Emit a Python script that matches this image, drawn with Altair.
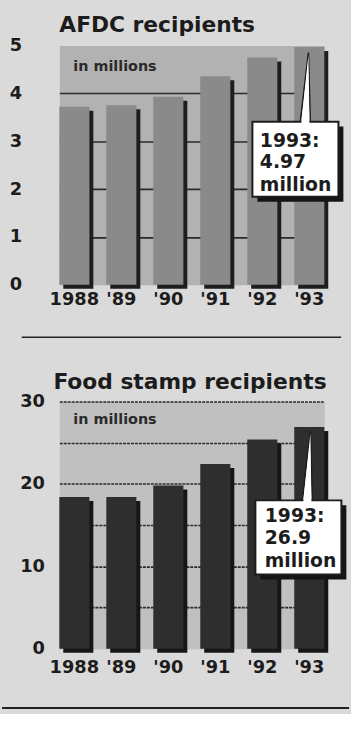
import altair as alt
import pandas as pd

FONT = "DejaVu Sans"
INK = "#1c1c1c"
PAGE = "#dadada"

# ---- data ----
years = ["1988", "'89", "'90", "'91", "'92", "'93"]
afdc_millions = [3.72, 3.75, 3.93, 4.36, 4.75, 4.97]
food_millions = [18.4, 18.4, 19.8, 22.4, 25.4, 26.9]
afdc_callout = ["1993:", "4.97", "million"]
food_callout = ["1993:", "26.9", "million"]
unit_note = "in millions"
titles = ["AFDC recipients", "Food stamp recipients"]

# wedge-shaped pointer (custom symbol path, unit square)
WEDGE = "M0.09,-1 L0.143,1 L-0.143,1 Z"
WEDGE_FILL = "M0.09,-0.94 L0.12,1.08 L-0.12,1.08 Z"


def panel(title, values, callout, ymax, grid_vals, hide_test, label_expr,
          label_pad, x_pad, bar_color, shadow_color, plot_fill, grid_dash, plot_h,
          note_y, box_top, box_bottom, text_ys, wedge_y, box_dx, text_dx,
          wedge_dx, title_pos, extra_rule):
    df = pd.DataFrame({"year": years, "value": values})
    x = alt.X("year:N", sort=years,
              scale=alt.Scale(paddingInner=0.36, paddingOuter=0),
              axis=alt.Axis(title=None, labelAngle=0, domain=False, ticks=False,
                            labelFont=FONT, labelFontSize=18, labelFontWeight="bold",
                            labelColor=INK, labelPadding=x_pad))
    yaxis = dict(title=None, values=grid_vals, domain=False, ticks=False,
                 labelFont=FONT, labelFontSize=18, labelFontWeight="bold",
                 labelColor=INK, labelPadding=label_pad, grid=True,
                 gridColor="#2a2a2a", gridWidth=1.6,
                 gridOpacity={"condition": {"test": hide_test, "value": 0}, "value": 1})
    if grid_dash:
        yaxis["gridDash"] = grid_dash
    if label_expr:
        yaxis["labelExpr"] = label_expr
    y = alt.Y("value:Q", scale=alt.Scale(domain=[0, ymax], nice=False),
              axis=alt.Axis(**yaxis))

    base = alt.Chart(df).encode(x=x, y=y)
    shadow = base.mark_bar(color=shadow_color, xOffset=4, yOffset=4, y2Offset=4)
    bars = base.mark_bar(color=bar_color)

    note = alt.Chart(pd.DataFrame({"year": [years[0]], "value": [note_y],
                                   "label": [unit_note]})).mark_text(
        align="left", baseline="middle", dx=-1, font=FONT, fontSize=14.5,
        fontWeight="bold", color="#2a2a2a").encode(x=x, y=y, text="label:N")

    wdf = pd.DataFrame({"year": [years[-1]], "value": [wedge_y]})
    wedge = alt.Chart(wdf).mark_point(
        shape=WEDGE, size=4900, filled=True, fill="white", stroke=INK,
        strokeWidth=1.6, opacity=1, xOffset=wedge_dx).encode(x=x, y=y)
    wedge_fill = alt.Chart(wdf).mark_point(
        shape=WEDGE_FILL, size=4900, filled=True, fill="white",
        strokeWidth=0, opacity=1, xOffset=wedge_dx).encode(x=x, y=y)

    bdf = pd.DataFrame({"year": [years[-1]], "value": [box_top], "value2": [box_bottom]})
    box_shadow = alt.Chart(bdf).mark_bar(
        width=87, xOffset=box_dx + 5, yOffset=5, y2Offset=5, color="#151515"
    ).encode(x=x, y=y, y2=alt.Y2("value2"))
    box = alt.Chart(bdf).mark_bar(
        width=87, xOffset=box_dx, fill="white", stroke=INK, strokeWidth=2
    ).encode(x=x, y=y, y2=alt.Y2("value2"))

    tdf = pd.DataFrame({"year": [years[-1]] * 3, "value": text_ys, "label": callout})
    texts = alt.Chart(tdf).mark_text(
        align="left", baseline="alphabetic", dx=text_dx, font=FONT, fontSize=19,
        fontWeight="bold", color=INK).encode(x=x, y=y, text="label:N")

    head = alt.Chart(pd.DataFrame({"label": [title]})).mark_text(
        align="left", baseline="alphabetic", font=FONT, fontSize=22,
        fontWeight="bold", color=INK).encode(
        x=alt.value(title_pos[0]), y=alt.value(title_pos[1]), text="label:N")

    rule = alt.Chart(pd.DataFrame({"a": [0]})).mark_rule(
        color="#222222", strokeWidth=extra_rule[3]).encode(
        x=alt.value(extra_rule[0]), x2=alt.value(extra_rule[1]), y=alt.value(extra_rule[2]))

    return alt.layer(shadow, bars, note, wedge, box_shadow, box, wedge_fill,
                     texts, head, rule).properties(
        width=268, height=plot_h,
        view=alt.ViewBackground(fill=plot_fill, stroke="transparent"))


top = panel(titles[0], afdc_millions, afdc_callout, 5, [0, 1, 2, 3, 4, 5],
            "datum.value == 0 || datum.value == 5", None, 38, 6,
            "#8a8a8a", "#1e1e1e", "#b2b2b2", None, 242,
            4.55, 3.41, 1.84, [2.89, 2.45, 1.96], 4.13, -14, -50, -4, (0, -14),
            (-38, 285, 295, 1.5))

bottom = panel(titles[1], food_millions, food_callout, 30,
               [0, 5, 10, 15, 20, 25, 30], "datum.value == 0",
               "datum.value % 10 == 0 ? datum.label : ''", 15, 10,
               "#2e2e2e", "#161616", "#c0c0c0", [3, 1], 250,
               27.8, 18.0, 9.0, [15.36, 12.66, 9.96], 22.2, -11, -45, -2, (-6, -13),
               (-58, 293, 310, 2))

chart = alt.vconcat(top, bottom, spacing=31).properties(
    padding={"left": 0, "top": 9, "right": 0, "bottom": 0}
).configure(background=PAGE)

chart.save("out.html", embed_options={"renderer": "svg", "actions": False})
